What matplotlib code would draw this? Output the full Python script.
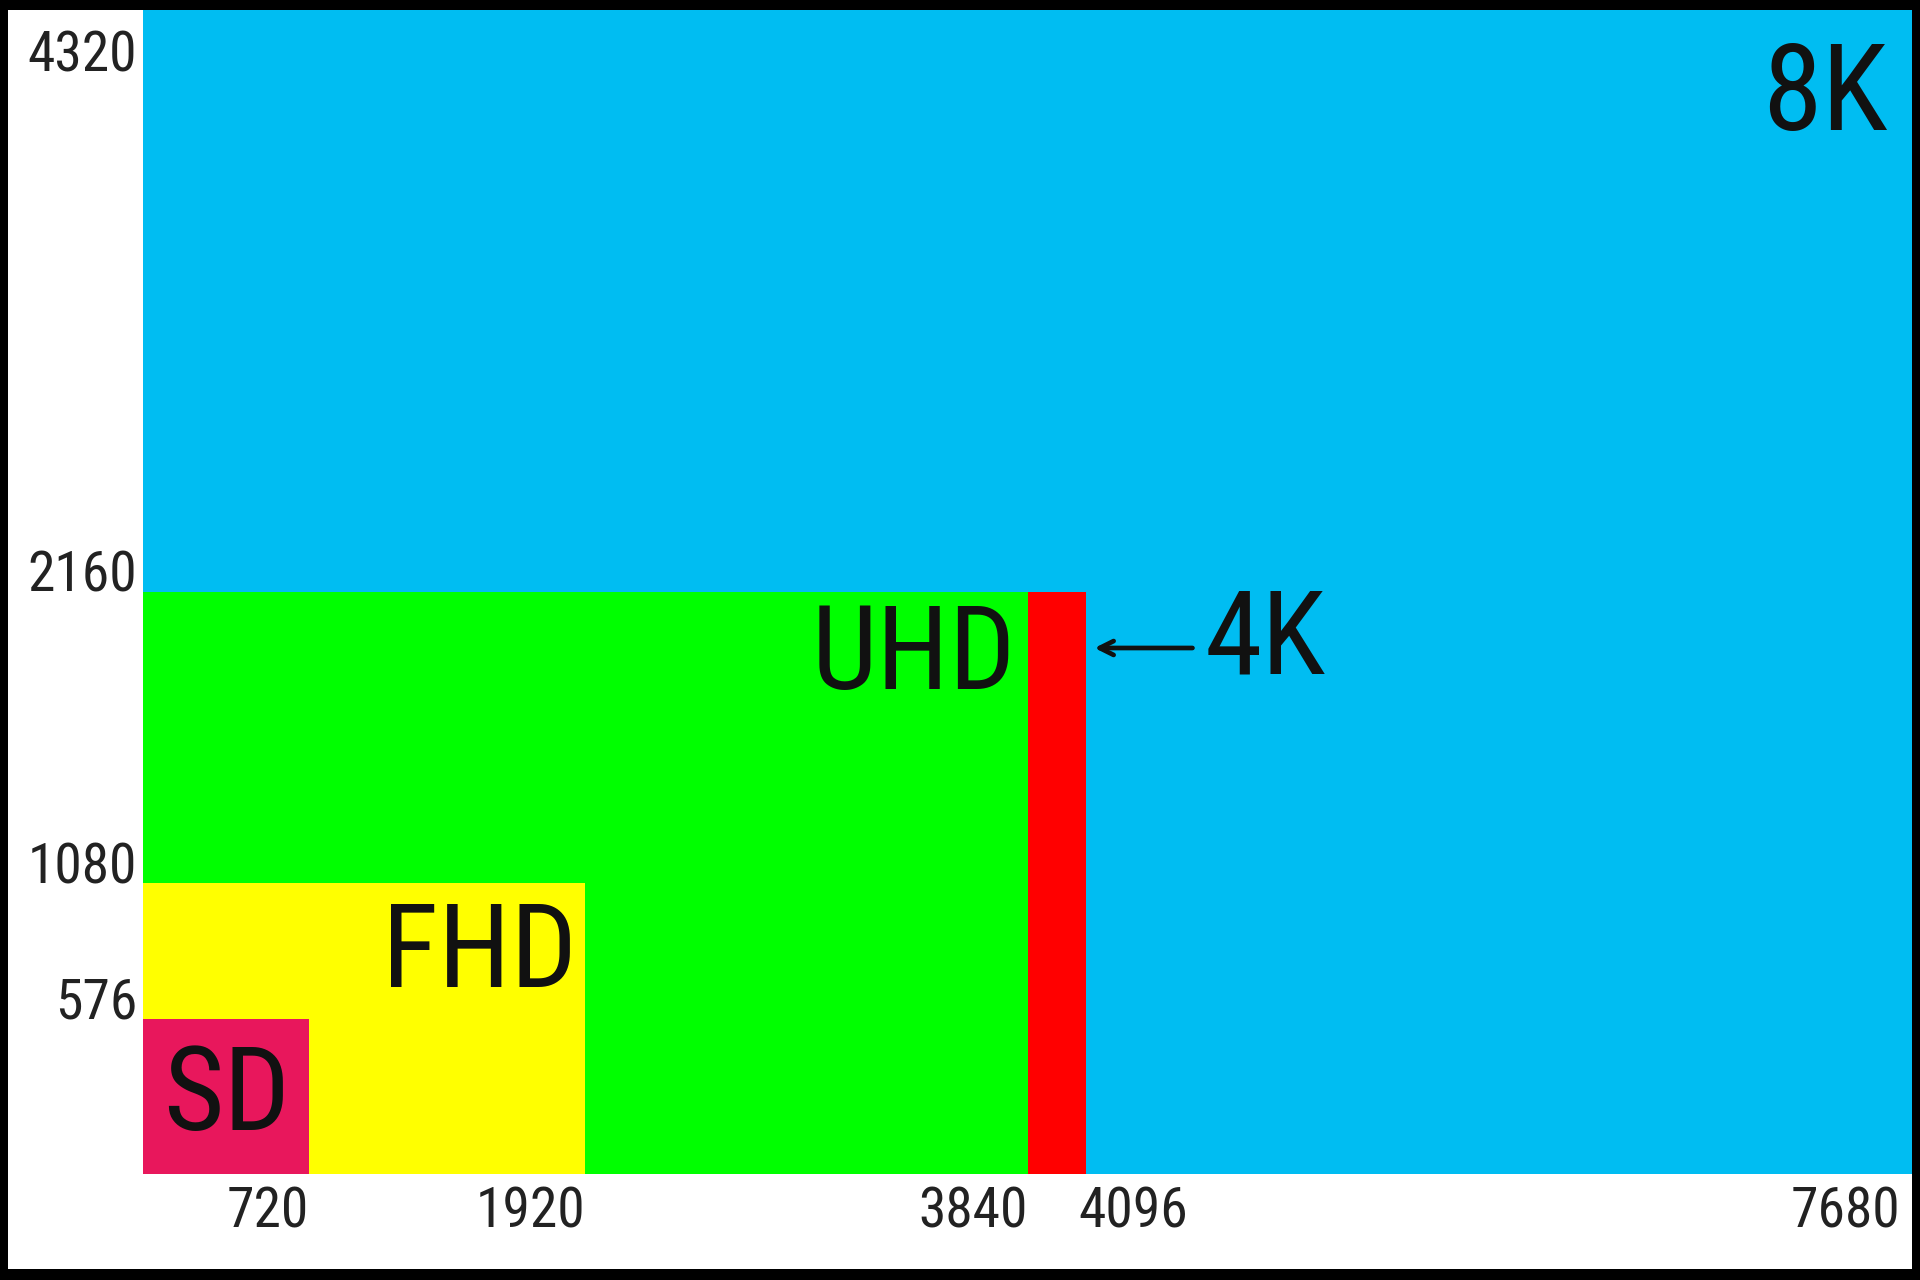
import matplotlib.pyplot as plt
from matplotlib import font_manager as fm
from matplotlib.patches import Rectangle

# resolutions (width x height), drawn largest first
names = ['8K', '4K', 'UHD', 'FHD', 'SD']
widths = [7680, 4096, 3840, 1920, 720]
heights = [4320, 2160, 2160, 1080, 576]
colors = ['#00bdf2', '#ff0000', '#00ff00', '#ffff00', '#e8175c']

xticks = [720, 1920, 3840, 4096, 7680]
yticks = [576, 1080, 2160, 4320]

# narrow helvetica-like face if we have it, else Liberation Sans
narrow = [f.fname for f in fm.fontManager.ttflist
          if f.fname.endswith('RobotoCondensed-Regular.ttf')]

def fp(size):
    if narrow:
        return fm.FontProperties(fname=narrow[0], size=size)
    return fm.FontProperties(family=['Liberation Sans', 'DejaVu Sans'], size=size * 0.88)

fig = plt.figure(figsize=(19.2, 12.8), dpi=100)
fig.patch.set_facecolor('black')
# white page inside the black frame
fig.patches.append(Rectangle((8 / 1920, 11 / 1280), 1904 / 1920, 1259 / 1280,
                             transform=fig.transFigure, facecolor='white',
                             edgecolor='none', zorder=-5))

ax = fig.add_axes([143 / 1920, 1 - 1174 / 1280, 1769 / 1920, 1164 / 1280])
ax.set_zorder(2)
ax.set_xlim(0, 7680)
ax.set_ylim(0, 4320)
ax.axis('off')

for w, h, c in zip(widths, heights, colors):
    ax.bar(0, h, width=w, align='edge', color=c, linewidth=0)

def label(txt, xy, dx, dy, size, ha, color='#111111'):
    ax.annotate(txt, xy=xy, xytext=(dx, dy), textcoords='offset pixels',
                ha=ha, va='baseline', fontproperties=fp(size), color=color,
                annotation_clip=False)

# big labels
label('8K', (7680, 4320), -24, -120, 87, 'right')
label('UHD', (3840, 2160), -11, -97, 84, 'right')
label('4K', (4096, 2160), 118, -82, 84, 'left')
label('FHD', (1920, 1080), -8, -104, 84, 'right')
label('SD', (0, 576), 20, -111, 84, 'left')

# arrow pointing at the 4K strip
tip = ax.transData.transform((4096, 2160))
ax.annotate('', xy=(tip[0] + 8, tip[1] - 56), xycoords='figure pixels',
            xytext=(tip[0] + 106, tip[1] - 56), textcoords='figure pixels',
            arrowprops=dict(arrowstyle='->,head_length=1.0,head_width=0.5',
                            lw=3.4, color='#111111', shrinkA=0, shrinkB=0))

# axis values
for v in yticks:
    dy = -61 if v == 4320 else 0
    label(str(v), (0, v), -6, dy, 40, 'right', '#222222')

for v in xticks:
    if v == 4096:
        label(str(v), (v, 0), -8, -53, 40, 'left', '#222222')
    elif v == 7680:
        label(str(v), (v, 0), -12, -53, 40, 'right', '#222222')
    else:
        label(str(v), (v, 0), 0, -53, 40, 'right', '#222222')

plt.savefig('out.png', dpi=100, facecolor=fig.get_facecolor())
